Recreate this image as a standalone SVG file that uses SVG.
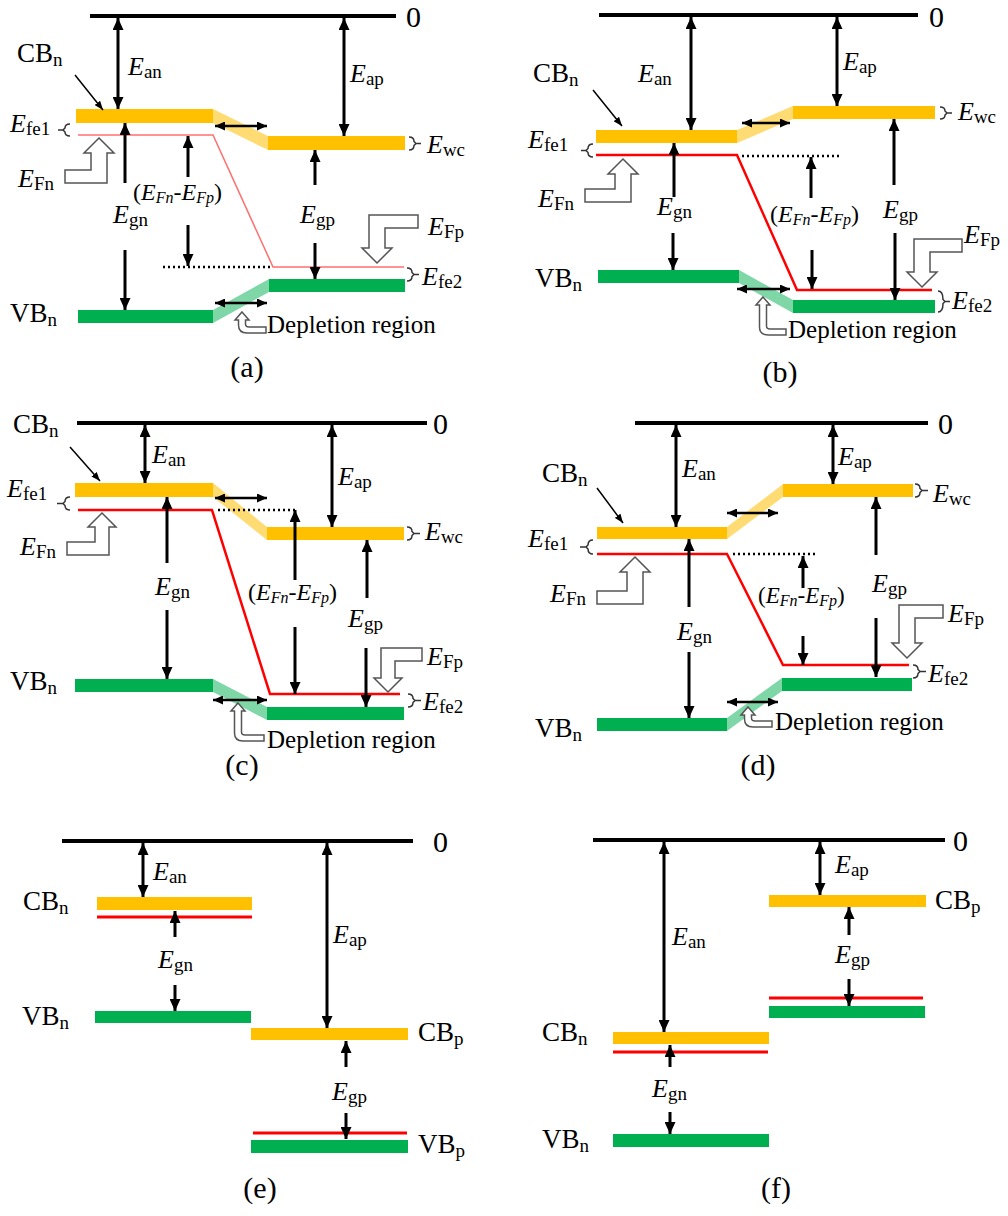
<svg xmlns="http://www.w3.org/2000/svg" width="1008" height="1216" viewBox="0 0 1008 1216">
<style>
.t{font-family:"Liberation Serif","Times New Roman",serif;font-size:26px;fill:#000}
.cbl{font-size:27px}
.i{font-style:italic}
.s{font-size:19px}
.f{font-size:24px}
.ss{font-size:16px}
.z{font-size:30px}
.dep{font-size:25px}
.pl{font-size:30px;text-anchor:middle}
.cb{fill:#FFC000}
.vb{fill:#00B050}
.cbs{fill:#FFC000;opacity:.55}
.vbs{fill:#00B050;opacity:.5}
.fl{stroke:#f00;stroke-width:2.5;fill:none}
.fla{stroke:#ff6f6f;stroke-width:1.5;fill:none}
.fle{stroke:#f00;stroke-width:3;fill:none}
.zero{stroke:#000;stroke-width:4}
.dot{stroke:#000;stroke-width:2.5;stroke-dasharray:2 3}
.ho{fill:#fff;stroke:#555;stroke-width:1.5}
.br{fill:none;stroke:#333;stroke-width:1.5}
.ar{stroke:#000;stroke-width:3;fill:none}
.ar2{stroke:#000;stroke-width:2.5;fill:none}
.ptr{stroke:#000;stroke-width:1.5;fill:none}
</style>
<defs>
<marker id="ah" viewBox="0 0 12 11" refX="12" refY="5.5" markerWidth="12" markerHeight="11" markerUnits="userSpaceOnUse" orient="auto-start-reverse"><path d="M0 0L12 5.5L0 11z" fill="#000"/></marker>
<marker id="ahs" viewBox="0 0 10 9" refX="10" refY="4.5" markerWidth="10" markerHeight="9" markerUnits="userSpaceOnUse" orient="auto-start-reverse"><path d="M0 0L10 4.5L0 9z" fill="#000"/></marker>
<marker id="ahp" viewBox="0 0 9 7" refX="9" refY="3.5" markerWidth="9" markerHeight="7" markerUnits="userSpaceOnUse" orient="auto"><path d="M0 0L9 3.5L0 7z" fill="#000"/></marker>
</defs>

<!-- ===== Panel (a) ===== -->
<g id="panel-a">
  <g id="a-vacuum"><line class="zero" x1="90" y1="16" x2="396" y2="16"/><text class="t z" x="406" y="27">0</text></g>
  <g id="a-cb">
    <rect class="cb" x="76" y="109" width="137" height="14"/>
    <polygon class="cbs" points="213,109 268,136 268,150 213,123"/>
    <rect class="cb" x="268" y="136" width="137" height="14"/>
  </g>
  <g id="a-vb">
    <rect class="vb" x="78" y="310" width="135" height="13"/>
    <polygon class="vbs" points="213,310 269,279 269,292 213,323"/>
    <rect class="vb" x="269" y="279" width="136" height="13"/>
  </g>
  <g id="a-fermi">
    <polyline class="fla" points="78,135 213,135 273,267 404,267"/>
    <line class="dot" x1="163" y1="267" x2="271" y2="267"/>
  </g>
  <g id="a-marks">
    <path class="br" d="M70 124 Q65 124 65 128 L63 130 L65 132 Q65 136 70 136 M63 130 H58"/>
    <path class="br" d="M409 137 Q414 137 414 141.5 L416 143.5 L414 145.5 Q414 150 409 150 M416 143.5 H421"/>
    <path class="br" d="M407 268 Q412 268 412 272.5 L414 274.5 L412 276.5 Q412 281 407 281 M414 274.5 H419"/>
    <path class="ho" d="M99 138 L114 153 H107 V183 H65 V170 H91 V153 H84 Z"/>
    <path class="ho" d="M377 263 L392 248 H385 V228 H418 V215 H369 V248 H362 Z"/>
    <path class="ho" d="M242 312 l7 8 h-3.5 V324 q0 3 3.5 3 H266 v6 H247 q-8.5 0 -8.5 -8 V320 h-3.5 z"/>
  </g>
  <g id="a-labels">
    <text class="t cbl" x="17" y="62">CB<tspan class="s" dy="4">n</tspan></text>
    <text class="t" x="128" y="75"><tspan class="i">E</tspan><tspan class="s" dy="3">an</tspan></text>
    <text class="t" x="350" y="82"><tspan class="i">E</tspan><tspan class="s" dy="3">ap</tspan></text>
    <text class="t" x="427" y="153"><tspan class="i">E</tspan><tspan class="s" dy="3">wc</tspan></text>
    <text class="t" x="10" y="132"><tspan class="i">E</tspan><tspan class="s" dy="3">fe1</tspan></text>
    <text class="t" x="18" y="187"><tspan class="i">E</tspan><tspan class="s" dy="3">Fn</tspan></text>
    <text class="t f" x="133" y="200">(<tspan class="i">E</tspan><tspan class="i ss" dy="3">Fn</tspan><tspan dy="-3">-</tspan><tspan class="i">E</tspan><tspan class="i ss" dy="3">Fp</tspan><tspan dy="-3">)</tspan></text>
    <text class="t" x="113" y="223"><tspan class="i">E</tspan><tspan class="s" dy="3">gn</tspan></text>
    <text class="t" x="300" y="223"><tspan class="i">E</tspan><tspan class="s" dy="3">gp</tspan></text>
    <text class="t" x="428" y="235"><tspan class="i">E</tspan><tspan class="s" dy="3">Fp</tspan></text>
    <text class="t" x="422" y="285"><tspan class="i">E</tspan><tspan class="s" dy="3">fe2</tspan></text>
    <text class="t cbl" x="10" y="322">VB<tspan class="s" dy="4">n</tspan></text>
    <text class="t dep" x="267" y="333">Depletion region</text>
    <text class="t pl" x="247" y="377">(a)</text>
  </g>
</g>

<!-- ===== Panel (b) ===== -->
<g id="panel-b">
  <g id="b-vacuum"><line class="zero" x1="599" y1="15" x2="918" y2="15"/><text class="t z" x="929" y="27">0</text></g>
  <g id="b-cb">
    <rect class="cb" x="596" y="130" width="141" height="13"/>
    <polygon class="cbs" points="737,130 793,106 793,119 737,143"/>
    <rect class="cb" x="793" y="106" width="142" height="13"/>
  </g>
  <g id="b-vb">
    <rect class="vb" x="598" y="270" width="141" height="13"/>
    <polygon class="vbs" points="739,270 793,300 793,313 739,283"/>
    <rect class="vb" x="793" y="300" width="142" height="13"/>
  </g>
  <g id="b-fermi">
    <polyline class="fl" points="596,155 737,155 797,290 932,290"/>
    <line class="dot" x1="742" y1="156" x2="840" y2="156"/>
  </g>
  <g id="b-marks">
    <path class="br" d="M593 144 Q588 144 588 148.5 L586 150.5 L588 152.5 Q588 157 593 157 M586 150.5 H581"/>
    <path class="br" d="M940 107 Q945 107 945 111 L947 113 L945 115 Q945 119 940 119 M947 113 H952"/>
    <path class="br" d="M938 291 Q943 291 943 299.5 L945 301.5 L943 303.5 Q943 312 938 312 M945 301.5 H950"/>
    <path class="ho" d="M623 159 L638 174 H631 V202 H585 V189 H615 V174 H608 Z"/>
    <path class="ho" d="M922 287 L937 272 H930 V252 H962 V239 H914 V272 H907 Z"/>
    <path class="ho" d="M763 297 l7 8 h-3.5 V326 q0 3 3.5 3 H786 v6 H768 q-8.5 0 -8.5 -8 V305 h-3.5 z"/>
  </g>
  <g id="b-labels">
    <text class="t cbl" x="533" y="82">CB<tspan class="s" dy="4">n</tspan></text>
    <text class="t" x="638" y="82"><tspan class="i">E</tspan><tspan class="s" dy="3">an</tspan></text>
    <text class="t" x="843" y="70"><tspan class="i">E</tspan><tspan class="s" dy="3">ap</tspan></text>
    <text class="t" x="958" y="120"><tspan class="i">E</tspan><tspan class="s" dy="3">wc</tspan></text>
    <text class="t" x="528" y="148"><tspan class="i">E</tspan><tspan class="s" dy="3">fe1</tspan></text>
    <text class="t" x="538" y="207"><tspan class="i">E</tspan><tspan class="s" dy="3">Fn</tspan></text>
    <text class="t" x="657" y="215"><tspan class="i">E</tspan><tspan class="s" dy="3">gn</tspan></text>
    <text class="t f" x="770" y="222">(<tspan class="i">E</tspan><tspan class="i ss" dy="3">Fn</tspan><tspan dy="-3">-</tspan><tspan class="i">E</tspan><tspan class="i ss" dy="3">Fp</tspan><tspan dy="-3">)</tspan></text>
    <text class="t" x="883" y="218"><tspan class="i">E</tspan><tspan class="s" dy="3">gp</tspan></text>
    <text class="t" x="964" y="243"><tspan class="i">E</tspan><tspan class="s" dy="3">Fp</tspan></text>
    <text class="t" x="952" y="309"><tspan class="i">E</tspan><tspan class="s" dy="3">fe2</tspan></text>
    <text class="t cbl" x="535" y="287">VB<tspan class="s" dy="4">n</tspan></text>
    <text class="t dep" x="788" y="338">Depletion region</text>
    <text class="t pl" x="780" y="382">(b)</text>
  </g>
</g>

<!-- ===== Panel (c) ===== -->
<g id="panel-c">
  <g id="c-vacuum"><line class="zero" x1="77" y1="423" x2="427" y2="423"/><text class="t z" x="433" y="434">0</text></g>
  <g id="c-cb">
    <rect class="cb" x="75" y="483" width="138" height="14"/>
    <polygon class="cbs" points="213,483 267,527 267,540 213,497"/>
    <rect class="cb" x="267" y="527" width="137" height="13"/>
  </g>
  <g id="c-vb">
    <rect class="vb" x="75" y="679" width="138" height="13"/>
    <polygon class="vbs" points="213,679 267,707 267,720 213,692"/>
    <rect class="vb" x="267" y="707" width="137" height="13"/>
  </g>
  <g id="c-fermi">
    <polyline class="fl" points="78,510 212,510 270,694 400,694"/>
    <line class="dot" x1="218" y1="510" x2="295" y2="510"/>
  </g>
  <g id="c-marks">
    <path class="br" d="M70 497 Q65 497 65 501.5 L63 503.5 L65 505.5 Q65 510 70 510 M63 503.5 H57"/>
    <path class="br" d="M407 527 Q412 527 412 531.5 L414 533.5 L412 535.5 Q412 540 407 540 M414 533.5 H420"/>
    <path class="br" d="M408 694 Q413 694 413 698.5 L415 700.5 L413 702.5 Q413 707 408 707 M415 700.5 H421"/>
    <path class="ho" d="M102 513 L116 527 H109 V555 H67 V542 H95 V527 H88 Z"/>
    <path class="ho" d="M388 692 L402 678 H395 V661 H422 V648 H381 V678 H374 Z"/>
    <path class="ho" d="M238 703 l7 8 h-3.5 V732 q0 3 3.5 3 H264 v6 H243 q-8.5 0 -8.5 -8 V711 h-3.5 z"/>
  </g>
  <g id="c-labels">
    <text class="t cbl" x="13" y="433">CB<tspan class="s" dy="4">n</tspan></text>
    <text class="t" x="152" y="463"><tspan class="i">E</tspan><tspan class="s" dy="3">an</tspan></text>
    <text class="t" x="338" y="485"><tspan class="i">E</tspan><tspan class="s" dy="3">ap</tspan></text>
    <text class="t" x="425" y="540"><tspan class="i">E</tspan><tspan class="s" dy="3">wc</tspan></text>
    <text class="t" x="7" y="497"><tspan class="i">E</tspan><tspan class="s" dy="3">fe1</tspan></text>
    <text class="t" x="20" y="555"><tspan class="i">E</tspan><tspan class="s" dy="3">Fn</tspan></text>
    <text class="t" x="155" y="595"><tspan class="i">E</tspan><tspan class="s" dy="3">gn</tspan></text>
    <text class="t f" x="248" y="600">(<tspan class="i">E</tspan><tspan class="i ss" dy="3">Fn</tspan><tspan dy="-3">-</tspan><tspan class="i">E</tspan><tspan class="i ss" dy="3">Fp</tspan><tspan dy="-3">)</tspan></text>
    <text class="t" x="348" y="627"><tspan class="i">E</tspan><tspan class="s" dy="3">gp</tspan></text>
    <text class="t" x="427" y="665"><tspan class="i">E</tspan><tspan class="s" dy="3">Fp</tspan></text>
    <text class="t" x="423" y="710"><tspan class="i">E</tspan><tspan class="s" dy="3">fe2</tspan></text>
    <text class="t cbl" x="10" y="690">VB<tspan class="s" dy="4">n</tspan></text>
    <text class="t dep" x="267" y="748">Depletion region</text>
    <text class="t pl" x="242" y="775">(c)</text>
  </g>
</g>

<!-- ===== Panel (d) ===== -->
<g id="panel-d">
  <g id="d-vacuum"><line class="zero" x1="635" y1="423" x2="928" y2="423"/><text class="t z" x="938" y="434">0</text></g>
  <g id="d-cb">
    <rect class="cb" x="597" y="527" width="130" height="12"/>
    <polygon class="cbs" points="727,527 783,484 783,497 727,539"/>
    <rect class="cb" x="783" y="484" width="130" height="13"/>
  </g>
  <g id="d-vb">
    <rect class="vb" x="597" y="718" width="130" height="13"/>
    <polygon class="vbs" points="727,718 782,678 782,691 727,731"/>
    <rect class="vb" x="782" y="678" width="130" height="13"/>
  </g>
  <g id="d-fermi">
    <polyline class="fl" points="597,554 727,554 783,665 909,665"/>
    <line class="dot" x1="733" y1="554" x2="818" y2="554"/>
  </g>
  <g id="d-marks">
    <path class="br" d="M593 540 Q588 540 588 545 L586 547 L588 549 Q588 554 593 554 M586 547 H580"/>
    <path class="br" d="M915 484 Q920 484 920 488.5 L922 490.5 L920 492.5 Q920 497 915 497 M922 490.5 H928"/>
    <path class="br" d="M913 665 Q918 665 918 669.5 L920 671.5 L918 673.5 Q918 678 913 678 M920 671.5 H926"/>
    <path class="ho" d="M635 557 L650 572 H643 V604 H597 V591 H627 V572 H620 Z"/>
    <path class="ho" d="M907 658 L922 643 H915 V618 H943 V605 H899 V643 H892 Z"/>
    <path class="ho" d="M748 707 l7 8 h-3.5 V718 q0 3 3.5 3 H772 v6 H753 q-8.5 0 -8.5 -8 V715 h-3.5 z"/>
  </g>
  <g id="d-labels">
    <text class="t cbl" x="542" y="482">CB<tspan class="s" dy="4">n</tspan></text>
    <text class="t" x="682" y="477"><tspan class="i">E</tspan><tspan class="s" dy="3">an</tspan></text>
    <text class="t" x="838" y="465"><tspan class="i">E</tspan><tspan class="s" dy="3">ap</tspan></text>
    <text class="t" x="933" y="502"><tspan class="i">E</tspan><tspan class="s" dy="3">wc</tspan></text>
    <text class="t" x="528" y="547"><tspan class="i">E</tspan><tspan class="s" dy="3">fe1</tspan></text>
    <text class="t" x="550" y="602"><tspan class="i">E</tspan><tspan class="s" dy="3">Fn</tspan></text>
    <text class="t" x="872" y="592"><tspan class="i">E</tspan><tspan class="s" dy="3">gp</tspan></text>
    <text class="t" x="758" y="603" style="font-size:23px">(<tspan class="i">E</tspan><tspan class="i ss" dy="3">Fn</tspan><tspan dy="-3">-</tspan><tspan class="i">E</tspan><tspan class="i ss" dy="3">Fp</tspan><tspan dy="-3">)</tspan></text>
    <text class="t" x="677" y="640"><tspan class="i">E</tspan><tspan class="s" dy="3">gn</tspan></text>
    <text class="t" x="948" y="622"><tspan class="i">E</tspan><tspan class="s" dy="3">Fp</tspan></text>
    <text class="t" x="928" y="682"><tspan class="i">E</tspan><tspan class="s" dy="3">fe2</tspan></text>
    <text class="t cbl" x="535" y="737">VB<tspan class="s" dy="4">n</tspan></text>
    <text class="t dep" x="775" y="730">Depletion region</text>
    <text class="t pl" x="758" y="775">(d)</text>
  </g>
</g>

<!-- ===== Panel (e) ===== -->
<g id="panel-e">
  <g id="e-vacuum"><line class="zero" x1="62" y1="841" x2="413" y2="841"/><text class="t z" x="433" y="852">0</text></g>
  <g id="e-n">
    <rect class="cb" x="97" y="897" width="155" height="13"/>
    <line class="fle" x1="97" y1="917" x2="252" y2="917"/>
    <rect class="vb" x="95" y="1011" width="156" height="12"/>
  </g>
  <g id="e-p">
    <rect class="cb" x="251" y="1028" width="157" height="12"/>
    <line class="fle" x1="253" y1="1133" x2="407" y2="1133"/>
    <rect class="vb" x="251" y="1140" width="157" height="13"/>
  </g>
  <g id="e-labels">
    <text class="t" x="153" y="880"><tspan class="i">E</tspan><tspan class="s" dy="3">an</tspan></text>
    <text class="t cbl" x="23" y="910">CB<tspan class="s" dy="4">n</tspan></text>
    <text class="t" x="333" y="943"><tspan class="i">E</tspan><tspan class="s" dy="3">ap</tspan></text>
    <text class="t" x="158" y="968"><tspan class="i">E</tspan><tspan class="s" dy="3">gn</tspan></text>
    <text class="t cbl" x="22" y="1025">VB<tspan class="s" dy="4">n</tspan></text>
    <text class="t cbl" x="418" y="1041">CB<tspan class="s" dy="4">p</tspan></text>
    <text class="t" x="332" y="1100"><tspan class="i">E</tspan><tspan class="s" dy="3">gp</tspan></text>
    <text class="t cbl" x="418" y="1153">VB<tspan class="s" dy="4">p</tspan></text>
    <text class="t pl" x="260" y="1198">(e)</text>
  </g>
</g>

<!-- ===== Panel (f) ===== -->
<g id="panel-f">
  <g id="f-vacuum"><line class="zero" x1="593" y1="840" x2="945" y2="840"/><text class="t z" x="953" y="851">0</text></g>
  <g id="f-p">
    <rect class="cb" x="769" y="895" width="157" height="12"/>
    <line class="fle" x1="769" y1="998" x2="923" y2="998"/>
    <rect class="vb" x="769" y="1006" width="156" height="12"/>
  </g>
  <g id="f-n">
    <rect class="cb" x="613" y="1032" width="156" height="12"/>
    <line class="fle" x1="613" y1="1052" x2="768" y2="1052"/>
    <rect class="vb" x="613" y="1134" width="156" height="13"/>
  </g>
  <g id="f-labels">
    <text class="t" x="835" y="873"><tspan class="i">E</tspan><tspan class="s" dy="3">ap</tspan></text>
    <text class="t cbl" x="935" y="909">CB<tspan class="s" dy="4">p</tspan></text>
    <text class="t" x="672" y="945"><tspan class="i">E</tspan><tspan class="s" dy="3">an</tspan></text>
    <text class="t" x="835" y="963"><tspan class="i">E</tspan><tspan class="s" dy="3">gp</tspan></text>
    <text class="t cbl" x="542" y="1041">CB<tspan class="s" dy="4">n</tspan></text>
    <text class="t" x="652" y="1097"><tspan class="i">E</tspan><tspan class="s" dy="3">gn</tspan></text>
    <text class="t cbl" x="542" y="1148">VB<tspan class="s" dy="4">n</tspan></text>
    <text class="t pl" x="776" y="1198">(f)</text>
  </g>
</g>

<!-- ===== Connectors ===== -->
<g id="connectors">
  <!-- (a) -->
  <line class="ar" x1="118" y1="18" x2="118" y2="109" marker-start="url(#ah)" marker-end="url(#ah)"/>
  <line class="ar" x1="344" y1="18" x2="344" y2="136" marker-start="url(#ah)" marker-end="url(#ah)"/>
  <line class="ar" x1="125" y1="183" x2="125" y2="123" marker-end="url(#ah)"/>
  <line class="ar" x1="125" y1="250" x2="125" y2="310" marker-end="url(#ah)"/>
  <line class="ar" x1="188" y1="177" x2="188" y2="136" marker-end="url(#ah)"/>
  <line class="ar" x1="188" y1="225" x2="188" y2="266" marker-end="url(#ah)"/>
  <line class="ar" x1="315" y1="185" x2="315" y2="150" marker-end="url(#ah)"/>
  <line class="ar" x1="315" y1="243" x2="315" y2="279" marker-end="url(#ah)"/>
  <line class="ar2" x1="215" y1="126" x2="267" y2="126" marker-start="url(#ahs)" marker-end="url(#ahs)"/>
  <line class="ar2" x1="215" y1="303" x2="267" y2="303" marker-start="url(#ahs)" marker-end="url(#ahs)"/>
  <line class="ptr" x1="75" y1="75" x2="103" y2="110" marker-end="url(#ahp)"/>
  <!-- (b) -->
  <line class="ar" x1="691" y1="17" x2="691" y2="130" marker-start="url(#ah)" marker-end="url(#ah)"/>
  <line class="ar" x1="837" y1="17" x2="837" y2="106" marker-start="url(#ah)" marker-end="url(#ah)"/>
  <line class="ar" x1="674" y1="197" x2="674" y2="143" marker-end="url(#ah)"/>
  <line class="ar" x1="673" y1="233" x2="673" y2="270" marker-end="url(#ah)"/>
  <line class="ar" x1="811" y1="198" x2="811" y2="157" marker-end="url(#ah)"/>
  <line class="ar" x1="812" y1="250" x2="812" y2="289" marker-end="url(#ah)"/>
  <line class="ar" x1="894" y1="185" x2="894" y2="119" marker-end="url(#ah)"/>
  <line class="ar" x1="895" y1="233" x2="895" y2="300" marker-end="url(#ah)"/>
  <line class="ar2" x1="742" y1="123" x2="790" y2="123" marker-start="url(#ahs)" marker-end="url(#ahs)"/>
  <line class="ar2" x1="737" y1="289" x2="790" y2="289" marker-start="url(#ahs)" marker-end="url(#ahs)"/>
  <line class="ptr" x1="593" y1="90" x2="622" y2="126" marker-end="url(#ahp)"/>
  <!-- (c) -->
  <line class="ar" x1="145" y1="425" x2="145" y2="483" marker-start="url(#ah)" marker-end="url(#ah)"/>
  <line class="ar" x1="332" y1="425" x2="332" y2="527" marker-start="url(#ah)" marker-end="url(#ah)"/>
  <line class="ar" x1="167" y1="563" x2="167" y2="497" marker-end="url(#ah)"/>
  <line class="ar" x1="167" y1="610" x2="167" y2="679" marker-end="url(#ah)"/>
  <line class="ar" x1="295" y1="580" x2="295" y2="510" marker-end="url(#ah)"/>
  <line class="ar" x1="295" y1="627" x2="295" y2="694" marker-end="url(#ah)"/>
  <line class="ar" x1="367" y1="598" x2="367" y2="540" marker-end="url(#ah)"/>
  <line class="ar" x1="366" y1="648" x2="366" y2="707" marker-end="url(#ah)"/>
  <line class="ar2" x1="215" y1="498" x2="267" y2="498" marker-start="url(#ahs)" marker-end="url(#ahs)"/>
  <line class="ar2" x1="213" y1="700" x2="267" y2="700" marker-start="url(#ahs)" marker-end="url(#ahs)"/>
  <line class="ptr" x1="70" y1="447" x2="100" y2="481" marker-end="url(#ahp)"/>
  <!-- (d) -->
  <line class="ar" x1="676" y1="425" x2="676" y2="527" marker-start="url(#ah)" marker-end="url(#ah)"/>
  <line class="ar" x1="833" y1="425" x2="833" y2="484" marker-start="url(#ah)" marker-end="url(#ah)"/>
  <line class="ar" x1="689" y1="607" x2="689" y2="539" marker-end="url(#ah)"/>
  <line class="ar" x1="689" y1="652" x2="689" y2="718" marker-end="url(#ah)"/>
  <line class="ar" x1="803" y1="588" x2="803" y2="556" marker-end="url(#ah)"/>
  <line class="ar" x1="803" y1="636" x2="803" y2="665" marker-end="url(#ah)"/>
  <line class="ar" x1="876" y1="555" x2="876" y2="497" marker-end="url(#ah)"/>
  <line class="ar" x1="876" y1="618" x2="876" y2="677" marker-end="url(#ah)"/>
  <line class="ar2" x1="727" y1="513" x2="778" y2="513" marker-start="url(#ahs)" marker-end="url(#ahs)"/>
  <line class="ar2" x1="727" y1="702" x2="778" y2="702" marker-start="url(#ahs)" marker-end="url(#ahs)"/>
  <line class="ptr" x1="597" y1="488" x2="623" y2="523" marker-end="url(#ahp)"/>
  <!-- (e) -->
  <line class="ar" x1="143" y1="843" x2="143" y2="897" marker-start="url(#ah)" marker-end="url(#ah)"/>
  <line class="ar" x1="327" y1="843" x2="327" y2="1028" marker-start="url(#ah)" marker-end="url(#ah)"/>
  <line class="ar" x1="175" y1="937" x2="175" y2="911" marker-end="url(#ah)"/>
  <line class="ar" x1="175" y1="985" x2="175" y2="1011" marker-end="url(#ah)"/>
  <line class="ar" x1="346" y1="1067" x2="346" y2="1041" marker-end="url(#ah)"/>
  <line class="ar" x1="346" y1="1113" x2="346" y2="1139" marker-end="url(#ah)"/>
  <!-- (f) -->
  <line class="ar" x1="664" y1="842" x2="664" y2="1032" marker-start="url(#ah)" marker-end="url(#ah)"/>
  <line class="ar" x1="820" y1="842" x2="820" y2="895" marker-start="url(#ah)" marker-end="url(#ah)"/>
  <line class="ar" x1="849" y1="935" x2="849" y2="907" marker-end="url(#ah)"/>
  <line class="ar" x1="849" y1="979" x2="849" y2="1006" marker-end="url(#ah)"/>
  <line class="ar" x1="670" y1="1067" x2="670" y2="1045" marker-end="url(#ah)"/>
  <line class="ar" x1="670" y1="1112" x2="670" y2="1134" marker-end="url(#ah)"/>
</g>
</svg>
